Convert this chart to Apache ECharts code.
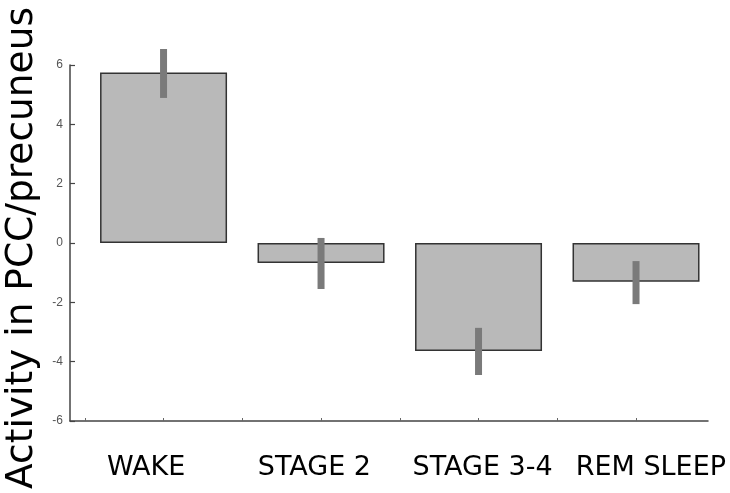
<!DOCTYPE html>
<html><head><meta charset="utf-8">
<script src="https://cdn.jsdelivr.net/npm/echarts@6/dist/echarts.min.js"></script>
<style>html,body{margin:0;padding:0;background:#fff}#c{width:730px;height:493px}</style>
</head><body><div id="c"></div>
<script>
const categories = ['WAKE', 'STAGE 2', 'STAGE 3-4', 'REM SLEEP'];
const means = [5.75, -0.67, -3.64, -1.31];
const errLow = [4.89, -1.55, -4.45, -2.06];
const errHigh = [6.54, 0.17, -2.86, -0.61];
const yTicks = [-6, -4, -2, 0, 2, 4, 6];
const yTitle = 'Activity in PCC/precuneus';

const barData = means.map((v, i) => [i, v]);
const errData = means.map((v, i) => [i, errLow[i], errHigh[i]]);

const chart = echarts.init(document.getElementById('c'), null, {renderer: 'canvas'});
chart.setOption({
  animation: false,
  backgroundColor: '#fff',
  grid: [
    {left: 70, right: 22, top: 65, bottom: 72, outerBoundsMode: 'none', containLabel: false},
    {left: 62, right: -5, top: 421, height: 1, outerBoundsMode: 'none', containLabel: false}
  ],
  xAxis: [
    {
      type: 'value', gridIndex: 0, min: -0.594, max: 3.457,
      splitLine: {show: false},
      axisLine: {show: true, onZero: false, lineStyle: {color: '#444', width: 1.5}},
      axisTick: {show: true, inside: true, length: 3, customValues: [-0.5, 0, 0.5, 1, 1.5, 2, 2.5, 3, 3.5], lineStyle: {color: '#666'}},
      axisLabel: {show: false}
    },
    {
      type: 'category', gridIndex: 1, data: categories,
      axisLine: {show: false}, axisTick: {show: false}, splitLine: {show: false},
      axisLabel: {interval: 0, margin: 32, fontFamily: 'DejaVu Sans', fontSize: 27, color: '#000'}
    }
  ],
  yAxis: [
    {
      type: 'value', gridIndex: 0, min: -6, max: 6, interval: 2,
      splitLine: {show: false},
      axisLine: {show: true, onZero: false, lineStyle: {color: '#444', width: 1.5}},
      axisTick: {show: true, inside: true, length: 5, lineStyle: {color: '#444', width: 1.2}},
      axisLabel: {margin: 7, fontFamily: 'Liberation Sans', fontSize: 12, color: '#555',
        customValues: yTicks},
      name: yTitle, nameLocation: 'middle', nameGap: 18,
      nameTextStyle: {fontFamily: 'DejaVu Sans', fontSize: 37.5, color: '#000', padding: [0, 10, 0, 0]}
    },
    {type: 'value', gridIndex: 1, show: false}
  ],
  series: [
    {
      type: 'bar', xAxisIndex: 0, yAxisIndex: 0, data: barData, barWidth: 127,
      itemStyle: {color: '#b9b9b9', borderColor: '#333', borderWidth: 1.5},
      z: 2
    },
    {
      type: 'custom', xAxisIndex: 0, yAxisIndex: 0, data: errData, z: 3,
      renderItem: function (params, api) {
        const top = api.coord([api.value(0), api.value(2)]);
        const bot = api.coord([api.value(0), api.value(1)]);
        return {type: 'rect', shape: {x: top[0] - 3.5, y: top[1], width: 7, height: bot[1] - top[1]},
          style: {fill: '#7a7a7a'}};
      }
    }
  ]
});
</script></body></html>
